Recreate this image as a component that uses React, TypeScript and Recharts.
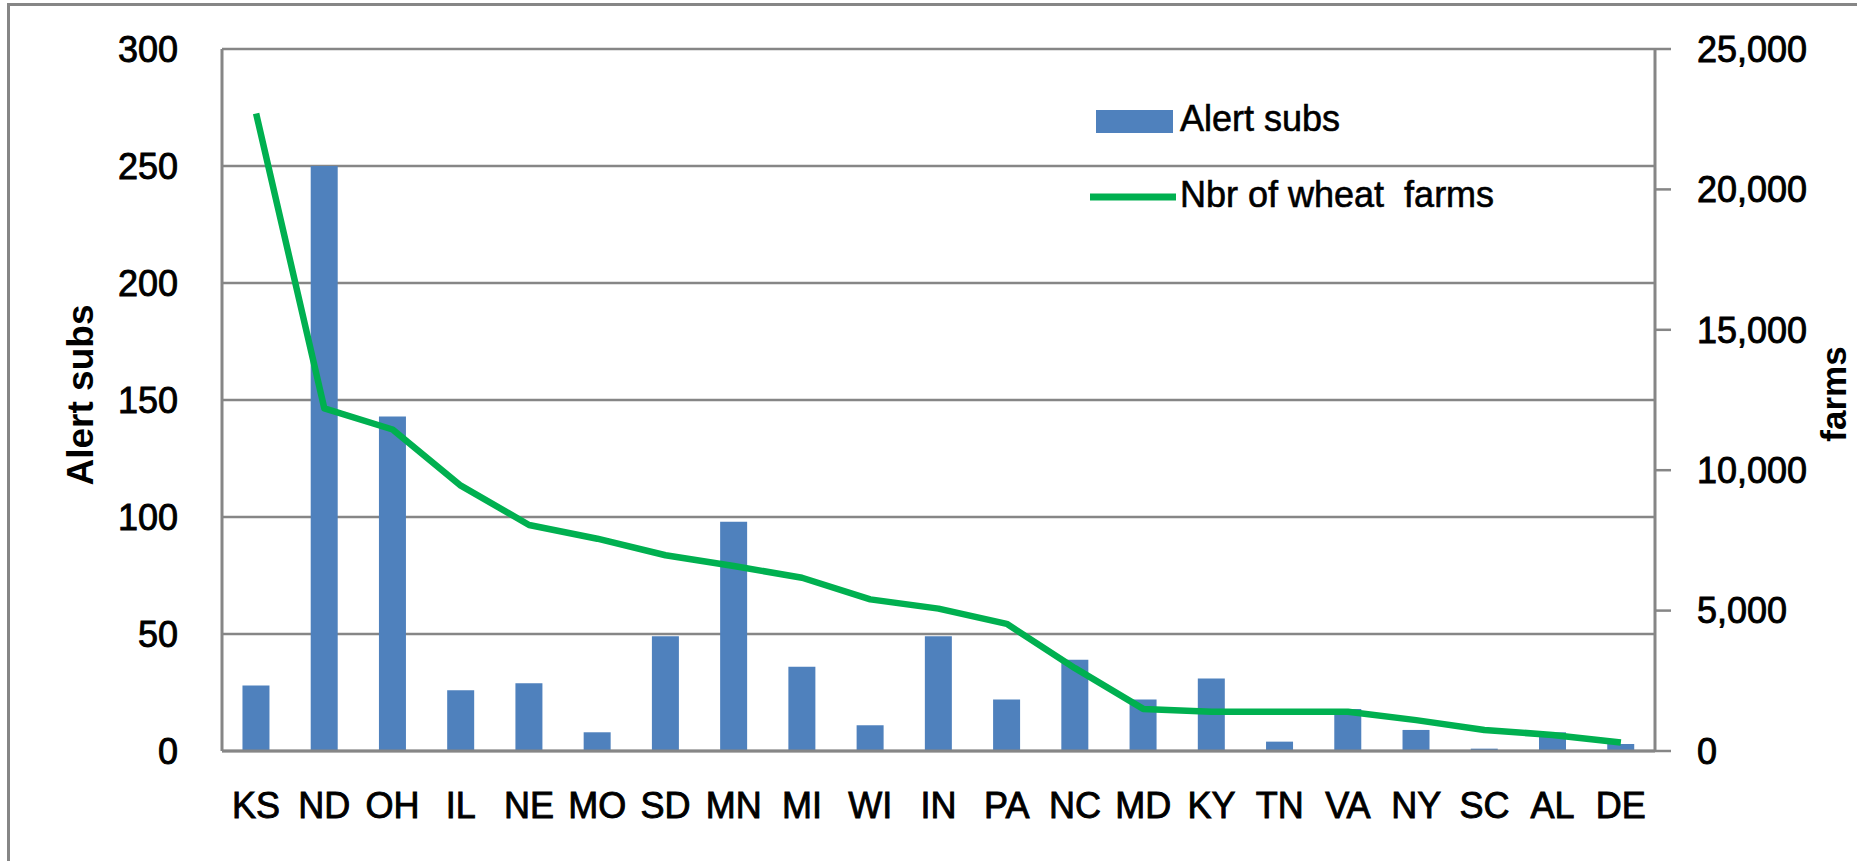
import React from "react";
import {
  ComposedChart,
  Bar,
  Line,
  XAxis,
  YAxis,
  CartesianGrid,
} from "recharts";

const states = ["KS","ND","OH","IL","NE","MO","SD","MN","MI","WI","IN","PA","NC","MD","KY","TN","VA","NY","SC","AL","DE"];
const alertSubs = [28,250,143,26,29,8,49,98,36,11,49,22,39,22,31,4,18,9,1,8,3];
const wheatFarms = [22700,12200,11450,9450,8050,7560,6970,6590,6170,5400,5070,4530,2950,1500,1400,1400,1400,1100,750,570,300];
const leftTicks = [0,50,100,150,200,250,300];
const rightTicks = [0,5000,10000,15000,20000,25000];
const seriesNames = ["Alert subs", "Nbr of wheat  farms"];

const data = states.map((s, i) => ({ state: s, subs: alertSubs[i], farms: wheatFarms[i] }));

const FONT = "'Liberation Sans', Arial, sans-serif";
const GRAY = "#868686";
const BLUE = "#4F81BD";
const GREEN = "#00B050";

const fmt = (v: number) => v.toLocaleString("en-US");

const tickStyle = { fontSize: 36, fill: "#000", fontFamily: FONT, stroke: "#000", strokeWidth: 0.9 };

const LegendBox = () => (
  <svg width={500} height={150} style={{ position: "absolute", left: 1080, top: 90, display: "block" }}>
    <rect x={16} y={20} width={77} height={23} fill={BLUE} />
    <text x={100} y={41} fontSize={36} fontFamily={FONT} fill="#000" stroke="#000" strokeWidth={0.6}>{seriesNames[0]}</text>
    <line x1={10} x2={96} y1={107} y2={107} stroke={GREEN} strokeWidth={7} />
    <text x={100} y={117} fontSize={36} fontFamily={FONT} fill="#000" stroke="#000" strokeWidth={0.6} style={{ whiteSpace: "pre" }}>{seriesNames[1]}</text>
  </svg>
);

const LeftTitle = (props: any) => {
  const vb = props.viewBox || {};
  const cx = vb.x + 80;
  const cy = vb.y + vb.height / 2 - 5;
  return (
    <text x={cx} y={cy} transform={`rotate(-90 ${cx} ${cy})`} textAnchor="middle" dominantBaseline="central"
      fontSize={37} fontWeight="bold" fontFamily={FONT} fill="#000">Alert subs</text>
  );
};

const RightTitle = (props: any) => {
  const vb = props.viewBox || {};
  const cx = vb.x + 178;
  const cy = vb.y + vb.height / 2 - 6;
  return (
    <text x={cx} y={cy} transform={`rotate(-90 ${cx} ${cy})`} textAnchor="middle" dominantBaseline="central"
      fontSize={35} fontWeight="bold" fontFamily={FONT} fill="#000">farms</text>
  );
};

export default function App() {
  return (
    <div style={{ position: "absolute", left: 0, top: 0, width: 1857, height: 861, background: "#fff", overflow: "hidden" }}>
      <div style={{ position: "absolute", left: 7, top: 3, width: 1850, height: 3, background: GRAY }} />
      <div style={{ position: "absolute", left: 7, top: 3, width: 3, height: 858, background: GRAY }} />
      <div style={{ position: "absolute", left: 0, top: 0 }}>
        <ComposedChart
          width={1857}
          height={861}
          data={data}
          margin={{ top: 49, right: 0, bottom: 50, left: 0 }}
          barCategoryGap="30%"
        >
          <CartesianGrid yAxisId="left" vertical={false} stroke={GRAY} strokeWidth={2.5} />
          <XAxis
            dataKey="state"
            height={60}
            axisLine={{ stroke: GRAY, strokeWidth: 3 }}
            tickLine={false}
            tickSize={0}
            tickMargin={41}
            interval={0}
            tick={tickStyle}
          />
          <YAxis
            yAxisId="left"
            orientation="left"
            width={222}
            domain={[0, 300]}
            ticks={leftTicks}
            axisLine={{ stroke: GRAY, strokeWidth: 3 }}
            tickLine={false}
            tickSize={0}
            tickMargin={44}
            tick={tickStyle}
            label={<LeftTitle />}
          />
          <YAxis
            yAxisId="right"
            orientation="right"
            width={202}
            domain={[0, 25000]}
            ticks={rightTicks}
            tickFormatter={fmt}
            axisLine={{ stroke: GRAY, strokeWidth: 3 }}
            tickLine={{ stroke: GRAY, strokeWidth: 2.5 }}
            tickSize={16}
            tickMargin={26}
            tick={{ ...tickStyle, textAnchor: "start" }}
            label={<RightTitle />}
          />
          <Bar yAxisId="left" dataKey="subs" name={seriesNames[0]} fill={BLUE} isAnimationActive={false} />
          <Line
            yAxisId="right"
            dataKey="farms"
            name={seriesNames[1]}
            type="linear"
            stroke={GREEN}
            strokeWidth={6.5}
            dot={false}
            strokeLinejoin="round"
            isAnimationActive={false}
          />
        </ComposedChart>
      </div>
      <LegendBox />
    </div>
  );
}
